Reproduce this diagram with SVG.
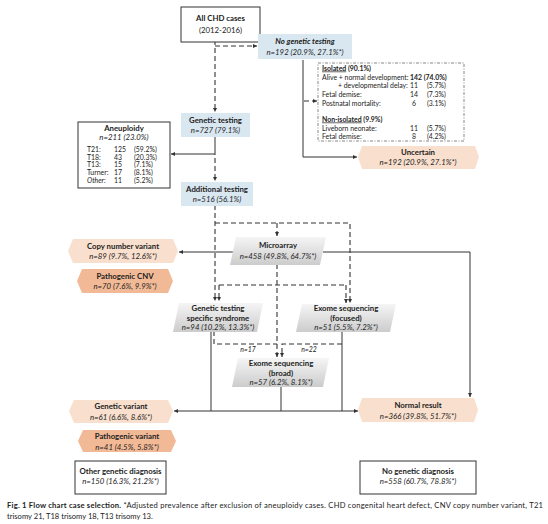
<svg xmlns="http://www.w3.org/2000/svg" width="548" height="524" viewBox="0 0 548 524">
<defs>
<linearGradient id="gray" x1="0" y1="0" x2="0" y2="1">
<stop offset="0" stop-color="#f5f5f5"/>
<stop offset="1" stop-color="#cccccc"/>
</linearGradient>
<marker id="ah" viewBox="0 0 6 6" refX="6" refY="3" markerWidth="4" markerHeight="4" orient="auto-start-reverse">
<path d="M0,0 L6,3 L0,6 z" fill="#333"/>
</marker>
<style>
text{font-family:Lato,"Liberation Sans",sans-serif;fill:#222;font-size:7.8px}
.b{font-weight:bold}
.i{font-style:italic}
.m{text-anchor:middle}
.s{font-size:6.9px}
.box{fill:#fff;stroke:#333;stroke-width:1}
.blue{fill:#d9e7f1}
.peach{fill:#f9dfcd}
.dpeach{fill:#f2b996}
.par{fill:url(#gray)}
.sol{fill:none;stroke:#333;stroke-width:1}
.dash{fill:none;stroke:#333;stroke-width:1.1;stroke-dasharray:5,3}
.arr{marker-end:url(#ah)}
.dbox{fill:#fff;stroke:#555;stroke-width:0.7;stroke-dasharray:3,1.5,1,1.5}
</style>
</defs>
<g id="connectors">
<path class="dash arr" d="M215,40 V112"/>
<path class="dash arr" d="M215,46 H257"/>
<path class="sol arr" d="M303,60 V157 H357"/>
<path class="dash arr" d="M304,101 H317" stroke-dasharray="2,2"/>
<path class="sol" d="M215,137 V155"/>
<path class="sol arr" d="M215,154 H171"/>
<path class="dash arr" d="M215,158 V181"/>
<path class="dash arr" d="M215,205 V301"/>
<path class="dash arr" d="M215,223 H350 V303"/>
<path class="dash arr" d="M277,223 V236"/>
<path class="sol arr" d="M234,252 H179"/>
<path class="sol arr" d="M323,252 H470 V397"/>
<path class="dash arr" d="M277,264 V357"/>
<path class="dash" d="M219,285 H346"/>
<path class="dash arr" d="M219,285 V301"/>
<path class="dash arr" d="M346,285 V303"/>
<path class="dash" d="M214,331 V344 H277"/>
<path class="dash arr" d="M342,344 H282 V357"/>
<path class="sol" d="M211,331 V411"/>
<path class="sol" d="M342,332 V411"/>
<path class="sol" d="M281,387 V411"/>
<path class="sol arr" d="M211,411 H174"/>
<path class="sol arr" d="M211,411 H358"/>
</g>
<g id="all-chd">
<rect class="box" x="181" y="7" width="79" height="35"/>
<text class="b m" x="220.5" y="21">All CHD cases</text>
<text class="m" x="220.5" y="33">(2012-2016)</text>
</g>
<g id="no-genetic-testing">
<rect class="blue" x="258" y="34" width="94" height="25"/>
<text class="b i m" x="305" y="44">No genetic testing</text>
<text class="i m" x="305" y="55">n=192 (20.9%, 27.1%*)</text>
</g>
<g id="outcomes">
<rect class="dbox" x="318" y="63" width="146" height="78"/>
<text class="s" x="322" y="70.5"><tspan class="b" text-decoration="underline">Isolated</tspan><tspan class="b"> (90.1%)</tspan></text>
<text class="s" x="322" y="79.5">Alive + normal development:</text>
<text class="s b" x="410" y="79.5">142 (74.0%)</text>
<text class="s" x="338" y="88">+ developmental delay:</text>
<text class="s" x="410" y="88">11</text><text class="s" x="427" y="88">(5.7%)</text>
<text class="s" x="322" y="97">Fetal demise:</text>
<text class="s" x="410" y="97">14</text><text class="s" x="427" y="97">(7.3%)</text>
<text class="s" x="322" y="106">Postnatal mortality:</text>
<text class="s" x="412" y="106">6</text><text class="s" x="427" y="106">(3.1%)</text>
<text class="s" x="322" y="121.5"><tspan class="b" text-decoration="underline">Non-isolated</tspan><tspan class="b"> (9.9%)</tspan></text>
<text class="s" x="322" y="130.5">Liveborn neonate:</text>
<text class="s" x="410" y="130.5">11</text><text class="s" x="427" y="130.5">(5.7%)</text>
<text class="s" x="322" y="139">Fetal demise:</text>
<text class="s" x="412" y="139">8</text><text class="s" x="427" y="139">(4.2%)</text>
</g>
<g id="uncertain">
<polygon class="peach" points="358,157 362,146 475,146 479,157 475,169 362,169"/>
<text class="b m" x="418" y="155">Uncertain</text>
<text class="i m" x="418" y="165">n=192 (20.9%, 27.1%*)</text>
</g>
<g id="genetic-testing">
<rect class="blue" x="181" y="113" width="69" height="24"/>
<text class="b m" x="215.5" y="123">Genetic testing</text>
<text class="i m" x="215.5" y="133">n=727 (79.1%)</text>
</g>
<g id="aneuploidy">
<rect class="box" x="78" y="122" width="92" height="66"/>
<text class="b m" x="124" y="130.5">Aneuploidy</text>
<text class="i m" x="124" y="140">n=211 (23.0%)</text>
<text class="s" x="87" y="151.5">T21:</text><text class="s" x="114" y="151.5">125</text><text class="s" x="134" y="151.5">(59.2%)</text>
<text class="s" x="87" y="159.5">T18:</text><text class="s" x="114" y="159.5">43</text><text class="s" x="134" y="159.5">(20.3%)</text>
<text class="s" x="87" y="167">T13:</text><text class="s" x="114" y="167">15</text><text class="s" x="134" y="167">(7.1%)</text>
<text class="s" x="87" y="175">Turner:</text><text class="s" x="114" y="175">17</text><text class="s" x="134" y="175">(8.1%)</text>
<text class="s i" x="87" y="183">Other:</text><text class="s" x="114" y="183">11</text><text class="s" x="134" y="183">(5.2%)</text>
</g>
<g id="additional-testing">
<rect class="blue" x="181" y="182" width="72" height="24"/>
<text class="b m" x="217" y="192">Additional testing</text>
<text class="i m" x="217" y="202">n=516 (56.1%)</text>
</g>
<g id="microarray">
<polygon class="par" points="236,237 326,237 320,265 230,265"/>
<text class="b m" x="278" y="248">Microarray</text>
<text class="i m" x="278" y="259">n=458 (49.8%, 64.7%*)</text>
</g>
<g id="cnv">
<polygon class="peach" points="68,251 73,239 173,239 178,251 173,263 73,263"/>
<text class="b m" x="123" y="249">Copy number variant</text>
<text class="i m" x="123" y="259">n=89 (9.7%, 12.6%*)</text>
</g>
<g id="pathogenic-cnv">
<polygon class="dpeach" points="77,281 82,269 168,269 173,281 168,293 82,293"/>
<text class="b m" x="125" y="279">Pathogenic CNV</text>
<text class="i m" x="125" y="289">n=70 (7.6%, 9.9%*)</text>
</g>
<g id="specific-syndrome">
<polygon class="par" points="179,303 263,303 257,332 173,332"/>
<text class="b m" x="218" y="311">Genetic testing</text>
<text class="b m" x="218" y="320.5">specific syndrome</text>
<text class="i m" x="218" y="330">n=94 (10.2%, 13.3%*)</text>
</g>
<g id="exome-focused">
<polygon class="par" points="302,304 396,304 390,332 296,332"/>
<text class="b m" x="346" y="311">Exome sequencing</text>
<text class="b m" x="346" y="320.5">(focused)</text>
<text class="i m" x="346" y="330">n=51 (5.5%, 7.2%*)</text>
</g>
<text class="i m s" x="248" y="352">n=17</text>
<text class="i m s" x="309" y="352">n=22</text>
<g id="exome-broad">
<polygon class="par" points="238,358 329,358 323,387 232,387"/>
<text class="b m" x="281" y="366">Exome sequencing</text>
<text class="b m" x="281" y="375.5">(broad)</text>
<text class="i m" x="281" y="385">n=57 (6.2%, 8.1%*)</text>
</g>
<g id="genetic-variant">
<polygon class="peach" points="69,411 74,400 168,400 173,411 168,423 74,423"/>
<text class="b m" x="121" y="409">Genetic variant</text>
<text class="i m" x="121" y="419.5">n=61 (6.6%, 8.6%*)</text>
</g>
<g id="pathogenic-variant">
<polygon class="dpeach" points="78,441 83,430 171,430 176,441 171,452 83,452"/>
<text class="b m" x="127" y="439">Pathogenic variant</text>
<text class="i m" x="127" y="449.5">n=41 (4.5%, 5.8%*)</text>
</g>
<g id="normal-result">
<polygon class="peach" points="358,410 362,398 474,398 478,410 474,422 362,422"/>
<text class="b m" x="418" y="408">Normal result</text>
<text class="i m" x="418" y="418.5">n=366 (39.8%, 51.7%*)</text>
</g>
<g id="other-genetic-diagnosis">
<rect class="box" x="75" y="461" width="91" height="33"/>
<text class="b m" x="120.5" y="474">Other genetic diagnosis</text>
<text class="i m" x="120.5" y="484">n=150 (16.3%, 21.2%*)</text>
</g>
<g id="no-genetic-diagnosis">
<rect class="box" x="360" y="461" width="116" height="33"/>
<text class="b m" x="418" y="474">No genetic diagnosis</text>
<text class="i m" x="418" y="484">n=558 (60.7%, 78.8%*)</text>
</g>
<text x="7" y="508" style="font-size:7.6px" textLength="536" lengthAdjust="spacing"><tspan class="b">Fig. 1  Flow chart case selection.</tspan>  *Adjusted prevalence after exclusion of aneuploidy cases. CHD congenital heart defect, CNV copy number variant, T21</text>
<text x="7" y="519" style="font-size:7.6px">trisomy 21, T18 trisomy 18, T13 trisomy 13.</text>
</svg>
